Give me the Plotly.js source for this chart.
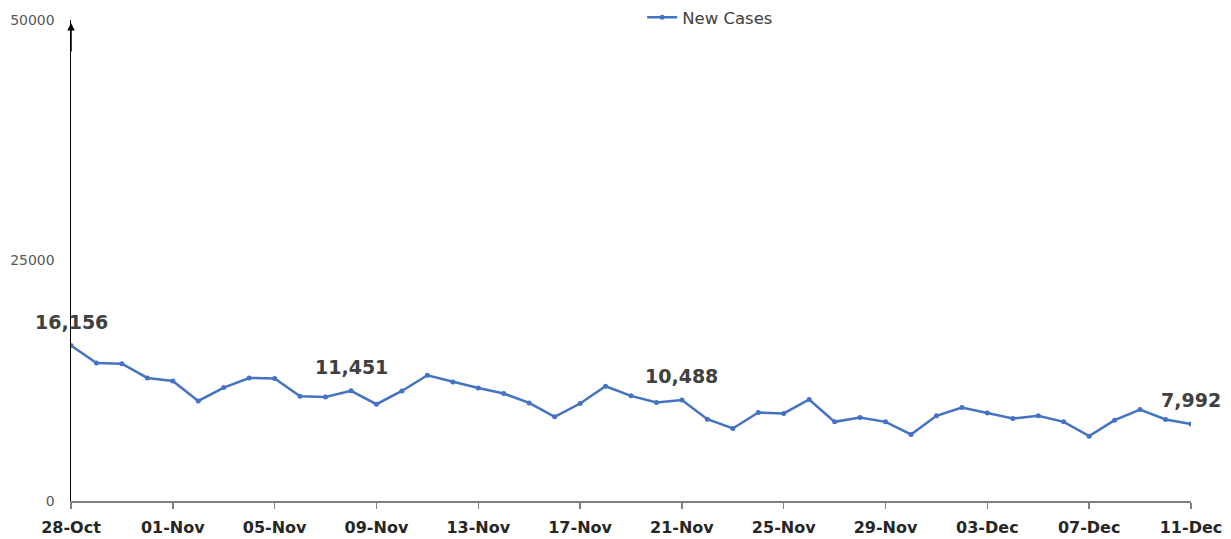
<!DOCTYPE html>
<html>
<head>
<meta charset="utf-8">
<script src="https://cdn.plot.ly/plotly-3.0.1.min.js"></script>
<style>html,body{margin:0;padding:0;background:#fff;}#chart{width:1231px;height:539px;}</style>
</head>
<body>
<div id="chart"></div>
<script>
const dates = ["28-Oct","29-Oct","30-Oct","31-Oct","01-Nov","02-Nov","03-Nov","04-Nov","05-Nov","06-Nov",
  "07-Nov","08-Nov","09-Nov","10-Nov","11-Nov","12-Nov","13-Nov","14-Nov","15-Nov","16-Nov",
  "17-Nov","18-Nov","19-Nov","20-Nov","21-Nov","22-Nov","23-Nov","24-Nov","25-Nov","26-Nov",
  "27-Nov","28-Nov","29-Nov","30-Nov","01-Dec","02-Dec","03-Dec","04-Dec","05-Dec","06-Dec",
  "07-Dec","08-Dec","09-Dec","10-Dec","11-Dec"];
const newCases = [16156,14350,14280,12790,12480,10400,11790,12790,12730,10890,
  10820,11451,10060,11440,13070,12380,11750,11170,10200,8750,
  10130,11930,10930,10240,10488,8510,7540,9200,9100,10550,
  8230,8680,8230,6920,8850,9720,9160,8580,8850,8230,
  6740,8400,9510,8470,7992];
const tickLabels = ["28-Oct","01-Nov","05-Nov","09-Nov","13-Nov","17-Nov","21-Nov","25-Nov","29-Nov","03-Dec","07-Dec","11-Dec"];
const yTicks = [0, 25000, 50000];
const labelled = ["28-Oct","08-Nov","21-Nov","11-Dec"];

const FONT = '"DejaVu Sans", "Liberation Sans", sans-serif';

const annotations = labelled.map(d => {
  const v = newCases[dates.indexOf(d)];
  return {x: d, y: v, xref: 'x', yref: 'y', text: v.toLocaleString('en-US'), showarrow: false,
    yshift: 24, xanchor: 'center', yanchor: 'middle',
    font: {family: FONT, size: 19, color: '#404040', weight: 'bold'}};
});
annotations.push({x: dates[0], y: 49700, xref: 'x', yref: 'y', ax: 0, ay: 30, axref: 'pixel', ayref: 'pixel',
  text: '', showarrow: true, arrowhead: 2, arrowsize: 1, arrowwidth: 1.5, arrowcolor: '#000'});

const trace = {
  x: dates, y: newCases, type: 'scatter', mode: 'lines+markers', name: 'New Cases',
  line: {color: '#4472C4', width: 2.5},
  marker: {color: '#4472C4', size: 5}
};

const layout = {
  width: 1231, height: 539,
  margin: {l: 71, r: 40, t: 20, b: 38, autoexpand: false},
  paper_bgcolor: '#fff', plot_bgcolor: '#fff',
  showlegend: true,
  legend: {x: 0.51, xanchor: 'left', xref: 'paper', y: 1, yref: 'container', yanchor: 'top', orientation: 'h',
    font: {family: FONT, size: 16.5, color: '#404040'}, bgcolor: 'rgba(0,0,0,0)'},
  xaxis: {type: 'category', range: [0, dates.length - 1], tickmode: 'array', tickvals: tickLabels, ticktext: tickLabels,
    showgrid: false, zeroline: false, showline: true, linecolor: '#808080', linewidth: 1.5,
    ticks: 'outside', ticklen: 6, tickcolor: '#808080', tickwidth: 1.5, ticklabelstandoff: 5,
    tickfont: {family: FONT, size: 16, color: '#262626', weight: 'bold'}},
  yaxis: {range: [0, 50000], tickmode: 'array', tickvals: yTicks, ticktext: yTicks.map(String),
    showgrid: false, zeroline: false, showline: true, linecolor: '#000', linewidth: 1.5,
    ticks: '', ticklabelstandoff: 12,
    tickfont: {family: FONT, size: 14, color: '#595959'}},
  annotations: annotations
};

Plotly.newPlot('chart', [trace], layout, {displayModeBar: false, staticPlot: true});
</script>
</body>
</html>
